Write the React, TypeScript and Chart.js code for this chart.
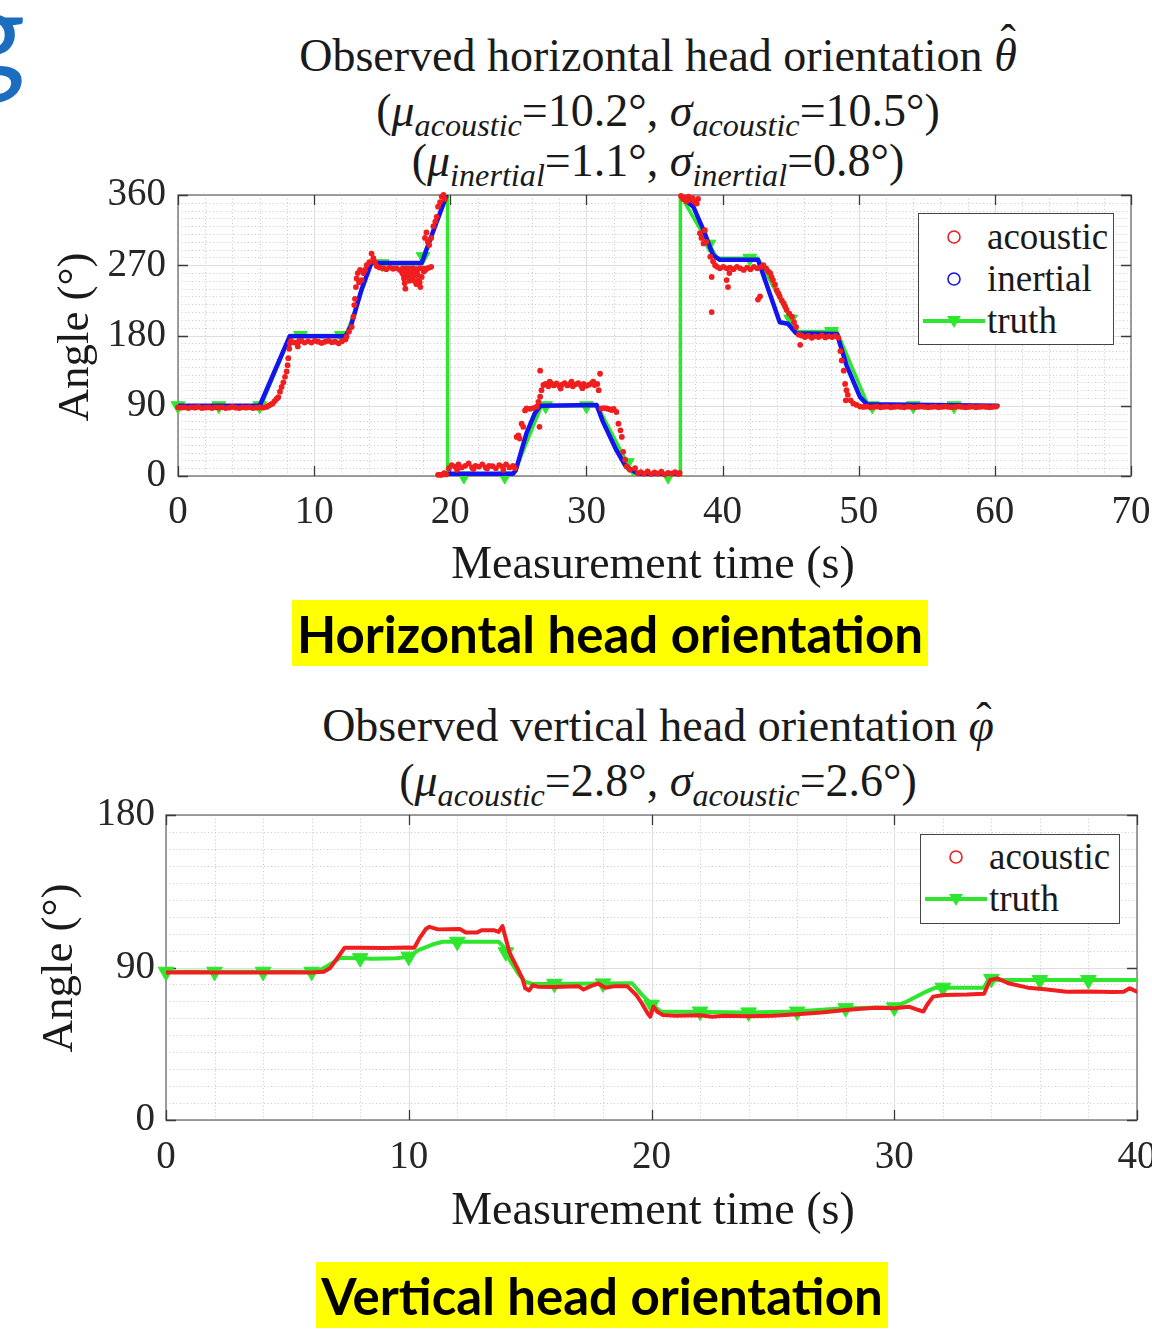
import React, { useEffect, useRef } from "react";
import { Chart, registerables } from "chart.js";

Chart.register(...registerables);

const SERIF = '"Liberation Serif", "Times New Roman", serif';
const RED = "#f01e1e";
const BLUE = "#1414f0";
const GREEN = "#2ee62e";
const TEXT = "#1a1a1a";

// ---------------- Horizontal chart data ----------------
const hXTicks = [0, 10, 20, 30, 40, 50, 60, 70];
const hYTicks = [0, 90, 180, 270, 360];

const hTruthLine: [number, number][] = [
  [0, 90], [6.1, 90], [8.25, 180], [12.35, 180], [14.2, 272], [17.8, 272], [19.75, 360], [19.8, 360],
  [19.8, 0], [24.6, 0], [26.7, 90], [30.8, 90], [33.5, 0], [36.9, 0], [36.9, 360], [39.6, 279],
  [42.6, 279], [45.5, 185], [48.4, 185], [50.7, 90], [60.2, 90],
];

const hTruthMarkers: [number, number][] = [
  [0, 90], [3, 90], [6, 90], [9, 180], [12, 180], [15, 272], [18, 281], [21, 0], [24, 0], [27, 90],
  [30, 90], [33, 17], [36, 0], [39, 297], [42, 279], [45, 201], [48, 185], [51, 90], [54, 90], [57, 90],
];

const hInertial: [number, number | null][] = [
  [0, 90], [6.0, 90], [8.2, 179], [12.3, 179], [12.7, 192], [13.5, 240], [14.2, 273], [17.9, 273],
  [18.8, 316], [19.7, 358], [19.75, null], [19.85, 3], [24.6, 3], [24.8, 7], [25.6, 55], [26.2, 80],
  [26.6, 90], [30.75, 91], [31.2, 70], [32.2, 33], [32.9, 12], [33.9, 2], [36.85, 1], [36.9, null],
  [36.95, 358], [37.85, 345], [38.6, 315], [39.3, 283], [39.8, 277], [42.6, 277], [44.2, 197],
  [44.8, 195], [45.4, 183], [48.4, 182], [49.1, 142], [50.1, 101], [50.6, 92], [60.2, 90],
];

const hAcoustic: [number, number][] = [
  // 0 - 6.5 s, near 90
  [0, 88], [0.25, 87.5], [0.5, 88], [0.75, 87], [1, 88], [1.25, 87.5], [1.5, 88.5], [1.75, 87],
  [2, 87.5], [2.25, 88], [2.5, 87], [2.75, 88], [3, 87.5], [3.25, 88], [3.5, 87], [3.75, 87.5],
  [4, 88.5], [4.25, 87.5], [4.5, 87], [4.75, 88], [5, 87.5], [5.25, 88], [5.5, 87], [5.75, 87.5],
  [6, 88], [6.25, 87.5], [6.5, 88.5],
  // rise to 180
  [6.65, 90], [6.8, 91.5], [6.95, 93], [7.1, 96], [7.25, 99], [7.37, 101], [7.49, 108], [7.61, 114],
  [7.74, 120], [7.86, 127], [7.98, 134], [8.05, 142], [8.1, 151], [8.17, 163], [8.22, 170],
  // plateau near 180
  [8.3, 173], [8.55, 171], [8.8, 166], [8.85, 172], [9.05, 173], [9.3, 171], [9.55, 172.5], [9.8, 171],
  [10.05, 173], [10.3, 172], [10.55, 170.5], [10.8, 172], [11.05, 173], [11.3, 171.5], [11.55, 172],
  [11.8, 170], [12.05, 172.5], [12.3, 175],
  // rise to 270
  [12.39, 178.6], [12.56, 185], [12.76, 191], [12.88, 204], [12.95, 219], [13.0, 227], [13.07, 242],
  [13.12, 253], [13.2, 260], [13.3, 248], [13.37, 264], [13.49, 251], [13.61, 260], [13.74, 264],
  [13.86, 270], [14.05, 274], [14.22, 285], [14.35, 279], [14.47, 274], [14.59, 269],
  // plateau near 270
  [14.8, 267], [15.05, 266], [15.3, 265], [15.55, 267], [15.8, 265.5], [16.05, 266], [16.3, 264],
  [16.47, 260], [16.5, 266], [16.55, 258], [16.6, 253], [16.65, 247], [16.7, 240], [16.75, 255],
  [16.75, 266], [16.8, 262], [16.9, 257], [17.0, 250], [17.0, 265.5], [17.05, 264], [17.1, 259],
  [17.2, 253], [17.25, 266], [17.3, 263], [17.35, 250], [17.43, 257], [17.5, 246], [17.5, 265],
  [17.55, 262], [17.6, 258], [17.68, 251], [17.75, 248], [17.75, 266], [17.8, 242], [17.9, 255],
  [18.0, 266], [18.05, 262], [18.17, 264], [18.3, 266], [18.45, 267], [18.6, 268],
  // rise to 360
  [18.14, 305], [18.25, 312], [18.35, 300], [18.45, 296], [18.6, 305], [18.76, 320], [18.9, 326],
  [19.0, 332], [19.1, 345], [19.25, 351], [19.37, 358], [19.5, 360], [19.6, 355],
  [19.1, 1.5], [19.25, 1.5], [19.37, 1.5], [19.55, 3.5], [19.7, 2],
  // near 0 (wrapped)
  [19.9, 10], [20.1, 14], [20.35, 12], [20.5, 8], [20.6, 15], [20.85, 11], [21.1, 13], [21.35, 16],
  [21.6, 11], [21.7, 9], [21.85, 13], [22.1, 12], [22.35, 15], [22.6, 11], [22.7, 9.5], [22.85, 13],
  [23.1, 12.5], [23.35, 10], [23.6, 14], [23.85, 12], [23.9, 8], [24.1, 15], [24.35, 11], [24.6, 13],
  // rise to 90
  [24.75, 10], [24.87, 50], [25.0, 52], [25.1, 48], [25.24, 67], [25.36, 63], [25.49, 84], [25.6, 86.5],
  [25.85, 86], [26.1, 87], [26.35, 88.7], [26.47, 95], [26.6, 101.6], [26.6, 135], [26.55, 63],
  [26.7, 110], [26.84, 116.6],
  // plateau near 117
  [27.0, 118], [27.2, 115], [27.3, 121], [27.4, 119], [27.6, 116], [27.8, 118.5], [28.0, 115.5],
  [28.1, 112], [28.2, 117], [28.4, 119], [28.6, 116], [28.8, 118], [28.9, 121], [29.0, 115],
  [29.2, 117.5], [29.4, 119], [29.6, 116], [29.7, 112.5], [29.8, 118], [30.0, 115.5], [30.2, 117],
  [30.4, 119], [30.5, 121], [30.6, 116.5], [30.8, 118],
  // fall to 0
  [30.9, 110], [31.0, 131], [31.1, 86.5], [31.3, 87], [31.5, 86.5], [31.7, 85.5], [31.85, 84.4],
  [32.0, 86], [32.2, 82], [32.35, 67], [32.5, 58.5], [32.6, 50], [32.7, 31], [32.84, 20.8],
  [32.96, 12.3], [33.2, 8], [33.57, 10], [33.8, 3.7],
  // near 0
  [34.0, 5], [34.25, 3], [34.5, 6], [34.75, 2.5], [35.0, 4.5], [35.25, 3], [35.5, 5.5], [35.75, 2],
  [36.0, 4], [36.25, 3], [36.5, 5], [36.75, 2.5], [36.85, 4],
  // near 360 after wrap, then down to 270
  [36.95, 359], [37.1, 355], [37.2, 357], [37.35, 352], [37.5, 358], [37.65, 354], [37.8, 356],
  [37.95, 351], [38.1, 349], [38.2, 355], [38.34, 311], [38.45, 305], [38.6, 298], [38.7, 315],
  [38.8, 300], [39.1, 281], [39.2, 255], [39.2, 210], [39.3, 275], [39.45, 270], [39.6, 268],
  // plateau near 267
  [39.8, 266], [40.05, 268], [40.3, 251], [40.3, 266], [40.4, 242], [40.5, 260], [40.55, 267],
  [40.8, 265], [41.05, 268], [41.3, 266], [41.55, 264], [41.8, 267], [42.05, 265], [42.3, 268],
  [42.55, 266], [42.6, 226], [42.75, 230],
  // fall to 180
  [42.85, 268], [43.0, 270], [43.2, 266], [43.35, 262], [43.5, 260], [43.6, 255], [43.7, 251],
  [43.85, 245], [43.98, 238], [44.1, 234], [44.2, 230], [44.35, 225], [44.5, 221], [44.6, 217],
  [44.7, 213], [44.9, 208], [45.1, 204], [45.25, 197], [45.4, 191], [45.6, 181], [45.7, 168],
  // plateau near 179
  [45.8, 180], [46.05, 178], [46.3, 179.5], [46.55, 177], [46.8, 179], [47.05, 178], [47.3, 180],
  [47.55, 177.5], [47.8, 179], [48.05, 178], [48.3, 179.5], [48.5, 177],
  // fall to 90
  [48.65, 160], [48.75, 148], [48.9, 135], [49.0, 118], [49.05, 97], [49.1, 110], [49.2, 104],
  [49.4, 97], [49.6, 93], [49.85, 91], [50.1, 89],
  // plateau near 90
  [50.35, 88.5], [50.6, 89], [50.85, 88], [51.1, 88.5], [51.35, 89], [51.6, 88], [51.85, 88.5],
  [52.1, 89], [52.35, 88], [52.6, 88.5], [52.85, 89], [53.1, 88.5], [53.35, 88], [53.6, 89],
  [53.85, 88.5], [54.1, 88], [54.35, 88.5], [54.6, 89], [54.85, 88.5], [55.1, 88], [55.35, 88.5],
  [55.6, 89], [55.85, 88], [56.1, 88.5], [56.35, 89], [56.6, 88.5], [56.85, 88], [57.1, 88.5],
  [57.35, 89], [57.6, 88.5], [57.85, 88], [58.1, 88.5], [58.35, 89], [58.6, 88], [58.85, 88.5],
  [59.1, 89], [59.35, 88.5], [59.6, 88], [59.85, 88.5], [60.1, 89],
];

// ---------------- Vertical chart data ----------------
const vXTicks = [0, 10, 20, 30, 40];
const vYTicks = [0, 90, 180];

const vTruthLine: [number, number][] = [
  [0, 87.5], [6.2, 87.5], [6.6, 90.5], [7.2, 95.8], [8.5, 95.2], [9.5, 95.5], [10.0, 96.4],
  [10.4, 100.3], [11.0, 103.7], [11.4, 105.2], [13.7, 105.2], [13.9, 102.3], [14.2, 93.4],
  [14.55, 85.6], [14.8, 81.6], [15.1, 80.3], [19.2, 80.7], [19.6, 74], [20.1, 67], [20.4, 64],
  [24, 63.5], [26, 64], [27, 65], [28, 66], [30, 66.5], [30.5, 69.8], [31.2, 75], [31.7, 78.1],
  [33.7, 78.1], [33.9, 83.6], [34.2, 82.6], [40, 82.6],
];

const vTruthMarkers: [number, number][] = [
  [0, 87.5], [2, 87.5], [4, 87.5], [6, 87.5], [8, 95.5], [10, 96.4], [12, 105.2], [14, 99],
  [16, 80.4], [18, 80.6], [20, 68], [22, 64], [24, 63.5], [26, 64], [28, 66], [30, 66.5],
  [32, 78.1], [34, 83.3], [36, 82.6], [38, 82.6],
];

const vAcoustic: [number, number][] = [
  [0, 87], [1, 87.2], [2, 87], [3, 87.1], [4, 87], [5, 87.2], [6, 87], [6.5, 87.5], [6.75, 89.5],
  [7.15, 97.4], [7.36, 101.7], [8, 101.7], [9, 101.5], [10, 101.8], [10.23, 101.7], [10.44, 107.2],
  [10.7, 112.7], [10.85, 114], [11.2, 112.5], [12.1, 112.7], [12.35, 110.6], [12.8, 110.6],
  [13.0, 112], [13.5, 112], [13.7, 111], [13.86, 114.5], [14.0, 107], [14.14, 99.3], [14.27, 95.4],
  [14.48, 89.5], [14.68, 83.6], [14.8, 77.7], [14.96, 76.5], [15.1, 79.5], [15.3, 78.7], [16, 78.5],
  [17, 79], [17.2, 77], [17.5, 79], [17.8, 80.5], [18.1, 78], [18.5, 79], [19.0, 79], [19.37, 73.8],
  [19.6, 68.9], [19.84, 63], [19.95, 61], [20.08, 66.9], [20.24, 63.9], [20.47, 62], [21, 61.5],
  [22, 61.8], [22.5, 61], [23, 61.5], [24, 61.2], [25, 61.5], [26, 62.4], [27, 63.5], [28, 64.9],
  [29.2, 66.3], [30, 65.9], [30.6, 66.9], [31.0, 64.9], [31.2, 64], [31.35, 67.9], [31.6, 72.8],
  [32.05, 73.8], [33, 74], [33.7, 74.5], [33.95, 82.6], [34.25, 83.6], [34.7, 80.7], [35.5, 78.1],
  [36.2, 77.2], [37.1, 75.7], [38, 75.8], [39, 75.5], [39.45, 75.7], [39.7, 77.7], [40, 75.7],
];

// ---------------- helpers ----------------
const pts = (a: [number, number | null][]) => a.map(([x, y]) => ({ x, y }));

const matlabAxes = {
  id: "matlabAxes",
  beforeDatasetsDraw(chart: any, _args: any, opts: any) {
    const { ctx, chartArea: a } = chart;
    const xs = chart.scales.x;
    const ys = chart.scales.y;
    const isMajor = (v: number, list: number[]) => list.some((m) => Math.abs(m - v) < 1e-6);
    ctx.save();
    ctx.lineWidth = 1;
    ctx.strokeStyle = "#c9c9c9";
    ctx.setLineDash([1, 2.5]);
    for (let v = xs.min; v <= xs.max + 1e-6; v += opts.xMinor) {
      if (isMajor(v, opts.xMajor)) continue;
      const p = Math.round(xs.getPixelForValue(v)) + 0.5;
      ctx.beginPath(); ctx.moveTo(p, a.top); ctx.lineTo(p, a.bottom); ctx.stroke();
    }
    for (let v = ys.min; v <= ys.max + 1e-6; v += opts.yMinor) {
      if (isMajor(v, opts.yMajor)) continue;
      const p = Math.round(ys.getPixelForValue(v)) + 0.5;
      ctx.beginPath(); ctx.moveTo(a.left, p); ctx.lineTo(a.right, p); ctx.stroke();
    }
    ctx.setLineDash([]);
    ctx.strokeStyle = "#dedede";
    for (const v of opts.xMajor) {
      const p = Math.round(xs.getPixelForValue(v)) + 0.5;
      ctx.beginPath(); ctx.moveTo(p, a.top); ctx.lineTo(p, a.bottom); ctx.stroke();
    }
    for (const v of opts.yMajor) {
      const p = Math.round(ys.getPixelForValue(v)) + 0.5;
      ctx.beginPath(); ctx.moveTo(a.left, p); ctx.lineTo(a.right, p); ctx.stroke();
    }
    ctx.strokeStyle = "#808080";
    ctx.lineWidth = 1.5;
    ctx.strokeRect(a.left, a.top, a.right - a.left, a.bottom - a.top);
    ctx.strokeStyle = "#3a3a3a";
    ctx.lineWidth = 1.3;
    for (const v of opts.xMajor) {
      const p = Math.round(xs.getPixelForValue(v)) + 0.5;
      ctx.beginPath();
      ctx.moveTo(p, a.bottom); ctx.lineTo(p, a.bottom - 10);
      ctx.moveTo(p, a.top); ctx.lineTo(p, a.top + 10);
      ctx.stroke();
    }
    for (const v of opts.yMajor) {
      const p = Math.round(ys.getPixelForValue(v)) + 0.5;
      ctx.beginPath();
      ctx.moveTo(a.left, p); ctx.lineTo(a.left + 10, p);
      ctx.moveTo(a.right, p); ctx.lineTo(a.right - 10, p);
      ctx.stroke();
    }
    ctx.restore();
  },
};

function makeScales(xTicks: number[], yTicks: number[], yWidth: number, xHeight: number, xPad: number, yPad: number) {
  const tickFont = { family: SERIF, size: 39 };
  return {
    x: {
      type: "linear",
      min: xTicks[0],
      max: xTicks[xTicks.length - 1],
      afterBuildTicks: (s: any) => { s.ticks = xTicks.map((value) => ({ value })); },
      grid: { display: false, drawTicks: false },
      border: { display: false },
      ticks: { font: tickFont, color: "#262626", padding: xPad, maxRotation: 0, autoSkip: false },
      afterFit: (s: any) => { s.height = xHeight; s.paddingLeft = 0; s.paddingRight = 0; },
    },
    y: {
      type: "linear",
      min: yTicks[0],
      max: yTicks[yTicks.length - 1],
      afterBuildTicks: (s: any) => { s.ticks = yTicks.map((value) => ({ value })); },
      grid: { display: false, drawTicks: false },
      border: { display: false },
      ticks: { font: tickFont, color: "#262626", padding: yPad, autoSkip: false },
      afterFit: (s: any) => { s.width = yWidth; s.paddingTop = 0; s.paddingBottom = 0; },
    },
  };
}

function ChartCanvas({ make, left, top, width, height }: any) {
  const ref = useRef<HTMLCanvasElement>(null);
  useEffect(() => {
    const chart = new Chart(ref.current as HTMLCanvasElement, make());
    return () => chart.destroy();
  }, []);
  return (
    <canvas ref={ref} width={width} height={height}
      style={{ position: "absolute", left, top, width, height, display: "block" }} />
  );
}

const horizontalConfig = (): any => ({
  type: "scatter",
  data: {
    datasets: [
      { label: "acoustic", data: pts(hAcoustic), showLine: false, pointRadius: 2.9, pointBorderWidth: 0,
        pointBackgroundColor: RED, clip: false },
      { label: "inertial", data: pts(hInertial), showLine: true, spanGaps: false, borderColor: BLUE,
        borderWidth: 4.5, pointRadius: 0, borderJoinStyle: "round", borderCapStyle: "round" },
      { label: "truth markers", data: pts(hTruthMarkers), showLine: false, pointStyle: "triangle",
        rotation: 180, pointRadius: 8, pointBackgroundColor: GREEN, pointBorderColor: GREEN, clip: false },
      { label: "truth", data: pts(hTruthLine), showLine: true, borderColor: GREEN, borderWidth: 3.5,
        pointRadius: 0 },
    ],
  },
  options: {
    animation: false,
    responsive: false,
    maintainAspectRatio: false,
    events: [],
    layout: { padding: { left: 0, right: 21, top: 25, bottom: 0 } },
    plugins: {
      legend: { display: false },
      tooltip: { enabled: false },
      matlabAxes: { xMinor: 2, yMinor: 10, xMajor: hXTicks, yMajor: hYTicks },
    },
    scales: makeScales(hXTicks, hYTicks, 178, 134, 13, 12),
  },
  plugins: [matlabAxes],
});

const verticalConfig = (): any => ({
  type: "scatter",
  data: {
    datasets: [
      { label: "acoustic", data: pts(vAcoustic), showLine: true, borderColor: RED, borderWidth: 4,
        pointRadius: 0, borderJoinStyle: "round", borderCapStyle: "round" },
      { label: "truth markers", data: pts(vTruthMarkers), showLine: false, pointStyle: "triangle",
        rotation: 180, pointRadius: 9, pointBackgroundColor: GREEN, pointBorderColor: GREEN, clip: false },
      { label: "truth", data: pts(vTruthLine), showLine: true, borderColor: GREEN, borderWidth: 4,
        pointRadius: 0, borderJoinStyle: "round" },
    ],
  },
  options: {
    animation: false,
    responsive: false,
    maintainAspectRatio: false,
    events: [],
    layout: { padding: { left: 0, right: 15, top: 20, bottom: 0 } },
    plugins: {
      legend: { display: false },
      tooltip: { enabled: false },
      matlabAxes: { xMinor: 2, yMinor: 10, xMajor: vXTicks, yMajor: vYTicks },
    },
    scales: makeScales(vXTicks, vYTicks, 166, 135, 14, 11),
  },
  plugins: [matlabAxes],
});

// ---------------- text helpers ----------------
const Sub = ({ children }: any) => (
  <span style={{ fontSize: "0.7em", fontStyle: "italic", position: "relative", top: "0.3em" }}>{children}</span>
);
const I = ({ children }: any) => <span style={{ fontStyle: "italic" }}>{children}</span>;
const Hat = ({ ch, lift }: any) => (
  <span style={{ position: "relative", display: "inline-block", fontStyle: "italic" }}>
    {ch}
    <span style={{ position: "absolute", left: "0.12em", right: 0, top: lift, textAlign: "center",
      fontStyle: "normal" }}>ˆ</span>
  </span>
);

function TitleLine({ top, children }: any) {
  return (
    <div style={{ position: "absolute", left: 158, width: 1000, top, height: 50, lineHeight: "50px",
      textAlign: "center", fontFamily: SERIF, fontSize: 46, color: TEXT, whiteSpace: "nowrap" }}>
      {children}
    </div>
  );
}

function XTitle({ top }: any) {
  return (
    <div style={{ position: "absolute", left: 153, width: 1000, top, height: 50, lineHeight: "50px",
      textAlign: "center", fontFamily: SERIF, fontSize: 46, color: TEXT, whiteSpace: "nowrap" }}>
      Measurement time (s)
    </div>
  );
}

function YTitle({ cx, cy }: any) {
  return (
    <div style={{ position: "absolute", left: cx - 150, top: cy - 25, width: 300, height: 50,
      lineHeight: "50px", textAlign: "center", fontFamily: SERIF, fontSize: 45, color: TEXT,
      whiteSpace: "nowrap", transform: "rotate(-90deg)", transformOrigin: "50% 50%" }}>
      Angle (°)
    </div>
  );
}

function Marker({ kind, color }: any) {
  if (kind === "circle") {
    return (
      <svg width="64" height="30" style={{ position: "absolute", left: 3, top: -15 }}>
        <circle cx="32" cy="15" r="6" fill="none" stroke={color} strokeWidth="1.6" />
      </svg>
    );
  }
  return (
    <svg width="64" height="30" style={{ position: "absolute", left: 3, top: -15 }}>
      <line x1="1" y1="15" x2="63" y2="15" stroke={GREEN} strokeWidth="4" />
      <polygon points="25,10 39,10 32,22" fill={GREEN} />
    </svg>
  );
}

function Legend({ left, top, width, height, items }: any) {
  return (
    <div style={{ position: "absolute", left, top, width, height, background: "#fff",
      border: "1.5px solid #444", boxSizing: "border-box" }}>
      {items.map((it: any, i: number) => (
        <div key={i} style={{ position: "absolute", left: 0, top: it.y }}>
          <Marker kind={it.kind} color={it.color} />
          <div style={{ position: "absolute", left: 68, top: -22, height: 44, lineHeight: "44px",
            fontFamily: SERIF, fontSize: 37, color: TEXT, whiteSpace: "nowrap" }}>{it.label}</div>
        </div>
      ))}
    </div>
  );
}

function YellowLabel({ left, top, width, height, text }: any) {
  return (
    <div style={{ position: "absolute", left, top, width, height, background: "#ffff00",
      display: "flex", alignItems: "center", justifyContent: "center", fontFamily: "Lato, 'Open Sans', sans-serif",
      fontWeight: 700, fontSize: 51, color: "#000", whiteSpace: "nowrap" }}>
      {text}
    </div>
  );
}

export default function App() {
  return (
    <div style={{ position: "absolute", left: 0, top: 0, width: 1152, height: 1330, background: "#fff",
      overflow: "hidden" }}>
      <div style={{ position: "absolute", left: -41, top: -33, fontFamily: "Lato, sans-serif", fontSize: 128,
        lineHeight: "128px", color: "#1c6dbf" }}>g</div>

      {/* Horizontal chart */}
      <TitleLine top={31}>Observed horizontal head orientation <Hat ch="θ" lift="-0.3em" /></TitleLine>
      <TitleLine top={86}>(<I>μ</I><Sub>acoustic</Sub>=10.2°, <I>σ</I><Sub>acoustic</Sub>=10.5°)</TitleLine>
      <TitleLine top={136}>(<I>μ</I><Sub>inertial</Sub>=1.1°, <I>σ</I><Sub>inertial</Sub>=0.8°)</TitleLine>
      <ChartCanvas make={horizontalConfig} left={0} top={170} width={1152} height={440} />
      <YTitle cx={73} cy={337} />
      <XTitle top={538} />
      <Legend left={918} top={213} width={196} height={132} items={[
        { y: 23, kind: "circle", color: RED, label: "acoustic" },
        { y: 65, kind: "circle", color: BLUE, label: "inertial" },
        { y: 107, kind: "truth", color: GREEN, label: "truth" },
      ]} />
      <YellowLabel left={292} top={600} width={636} height={66} text="Horizontal head orientation" />

      {/* Vertical chart */}
      <TitleLine top={701}>Observed vertical head orientation <Hat ch="φ" lift="-0.12em" /></TitleLine>
      <TitleLine top={756}>(<I>μ</I><Sub>acoustic</Sub>=2.8°, <I>σ</I><Sub>acoustic</Sub>=2.6°)</TitleLine>
      <ChartCanvas make={verticalConfig} left={0} top={795} width={1152} height={460} />
      <YTitle cx={57} cy={968} />
      <XTitle top={1184} />
      <Legend left={920} top={834} width={200} height={90} items={[
        { y: 22, kind: "circle", color: RED, label: "acoustic" },
        { y: 64, kind: "truth", color: GREEN, label: "truth" },
      ]} />
      <YellowLabel left={316} top={1262} width={572} height={66} text="Vertical head orientation" />
    </div>
  );
}
